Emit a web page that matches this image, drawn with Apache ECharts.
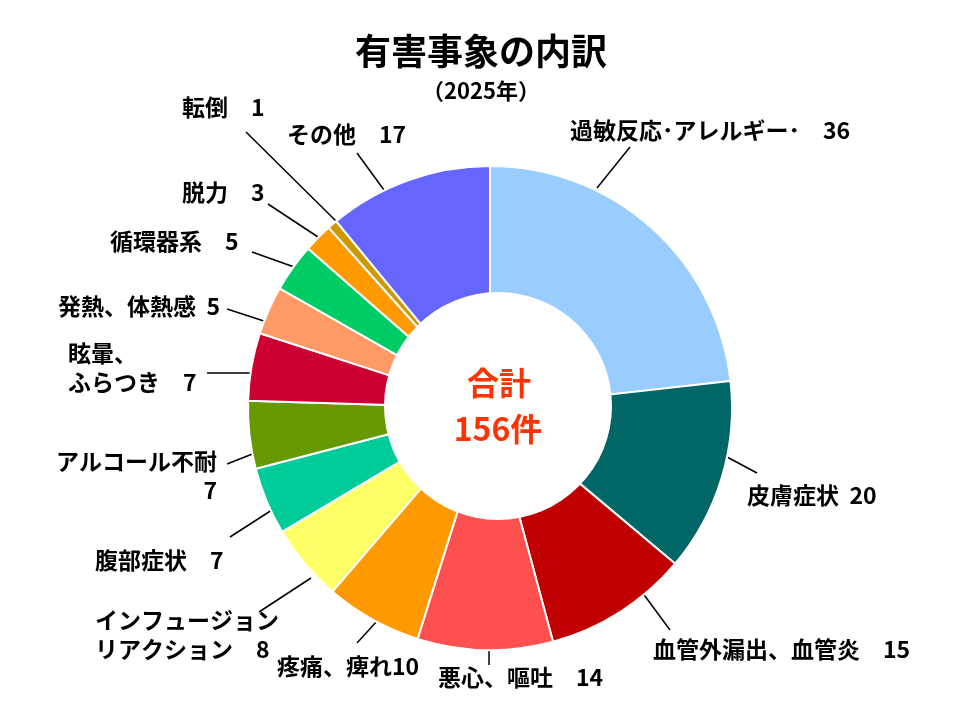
<!DOCTYPE html>
<html>
<head>
<meta charset="utf-8">
<script src="https://cdn.jsdelivr.net/npm/echarts@6/dist/echarts.min.js"></script>
<style>
html,body{margin:0;padding:0;background:#fff;}
#chart{width:960px;height:720px;}
</style>
</head>
<body>
<div id="chart"></div>
<script>
// ---- data ----
const categories = ['過敏反応･アレルギー･', '皮膚症状', '血管外漏出、血管炎', '悪心、嘔吐', '疼痛、痺れ',
  'インフュージョンリアクション', '腹部症状', 'アルコール不耐', '眩暈、ふらつき', '発熱、体熱感',
  '循環器系', '脱力', '転倒', 'その他'];
const values = [36, 20, 15, 14, 10, 8, 7, 7, 7, 5, 5, 3, 1, 17];
const totalCount = 156;
const titleText = '有害事象の内訳';
const subtitleText = '（2025年）';

// ---- styles / layout (not data) ----
const colors = ['#99CCFF', '#006666', '#C00000', '#FF5050', '#FF9900', '#FFFF66', '#00CC99',
  '#669900', '#CC0033', '#FF9966', '#00CC66', '#FF9900', '#CC9900', '#6666FF'];
const FONT = '"Noto Sans CJK JP", "Noto Sans", sans-serif';
// label text break positions and separators
const labelBreak = {5: 8, 7: -1, 8: 3};
const labelSep = {1: '  ', 4: '', 9: '  '};
// label anchor layout: x, y (middle), align, leader line [x1,y1,x2,y2]
const labelLayouts = [
  {x: 570, y: 130, align: 'left',  line: [597, 188, 630, 147]},
  {x: 747, y: 495, align: 'left',  line: [727, 457, 757, 473]},
  {x: 653, y: 649, align: 'left',  line: [642, 592, 670, 630]},
  {x: 438, y: 677, align: 'left',  line: [489, 648, 489, 665]},
  {x: 277, y: 666, align: 'left',  line: [378, 620, 357, 643]},
  {x: 95,  y: 635, align: 'left',  line: [311, 578, 259, 612]},
  {x: 95,  y: 560, align: 'left',  line: [275, 508, 230, 537]},
  {x: 217, y: 476, align: 'right', line: [260, 451, 227, 464]},
  {x: 68,  y: 368, align: 'left',  line: [257, 373, 207, 373]},
  {x: 58,  y: 306, align: 'left',  line: [270, 323, 227, 309]},
  {x: 110, y: 241, align: 'left',  line: [297, 268, 252, 252]},
  {x: 182, y: 192, align: 'left',  line: [318, 237, 268, 204]},
  {x: 182, y: 107, align: 'left',  line: [337, 222, 246, 132]},
  {x: 287, y: 134, align: 'left',  line: [384, 190, 357, 153]}
];

function labelText(i) {
  const name = categories[i];
  const v = String(values[i]);
  const sep = (i in labelSep) ? labelSep[i] : '　';
  if (i in labelBreak) {
    const k = labelBreak[i];
    if (k === -1) return name + '\n' + v;
    return name.slice(0, k) + '\n' + name.slice(k) + sep + v;
  }
  return name + sep + v;
}

const chart = echarts.init(document.getElementById('chart'), null, {renderer: 'canvas'});
chart.setOption({
  animation: false,
  backgroundColor: '#ffffff',
  graphic: [
    {type: 'text', x: 481, y: 51, z: 10,
     style: {text: titleText, font: 'bold 36px ' + FONT, fill: '#000',
             textAlign: 'center', textVerticalAlign: 'middle', align: 'center', verticalAlign: 'middle'}},
    {type: 'text', x: 481, y: 91, z: 10,
     style: {text: subtitleText, font: 'bold 22px ' + FONT, fill: '#000',
             textAlign: 'center', textVerticalAlign: 'middle', align: 'center', verticalAlign: 'middle'}},
    {type: 'circle', z: 50, shape: {cx: 498, cy: 406, r: 114}, style: {fill: '#ffffff'}},
    {type: 'text', x: 499, y: 383, z: 60,
     style: {text: '合計', font: 'bold 32px ' + FONT, fill: '#FF3300',
             textAlign: 'center', textVerticalAlign: 'middle', align: 'center', verticalAlign: 'middle'}},
    {type: 'text', x: 498, y: 429, z: 60,
     style: {text: totalCount + '件', font: 'bold 32px ' + FONT, fill: '#FF3300',
             textAlign: 'center', textVerticalAlign: 'middle', align: 'center', verticalAlign: 'middle'}}
  ],
  series: [{
    type: 'pie',
    center: [490, 408],
    radius: [100, 242],
    startAngle: 90,
    clockwise: true,
    avoidLabelOverlap: false,
    itemStyle: {borderColor: '#ffffff', borderWidth: 2},
    label: {
      show: true,
      position: 'outside',
      formatter: function (p) { return labelText(p.dataIndex); },
      fontFamily: FONT,
      fontSize: 23,
      fontWeight: 'bold',
      color: '#000',
      lineHeight: 29
    },
    labelLine: {show: true, length: 10, length2: 10, lineStyle: {color: '#000', width: 1.5}},
    labelLayout: function (params) {
      const L = labelLayouts[params.dataIndex];
      return {
        x: L.x, y: L.y, align: L.align, verticalAlign: 'middle',
        labelLinePoints: [[L.line[0], L.line[1]], [L.line[2], L.line[3]]]
      };
    },
    emphasis: {disabled: true},
    data: categories.map(function (c, i) {
      return {name: c, value: values[i], itemStyle: {color: colors[i]}};
    })
  }]
});
</script>
</body>
</html>
